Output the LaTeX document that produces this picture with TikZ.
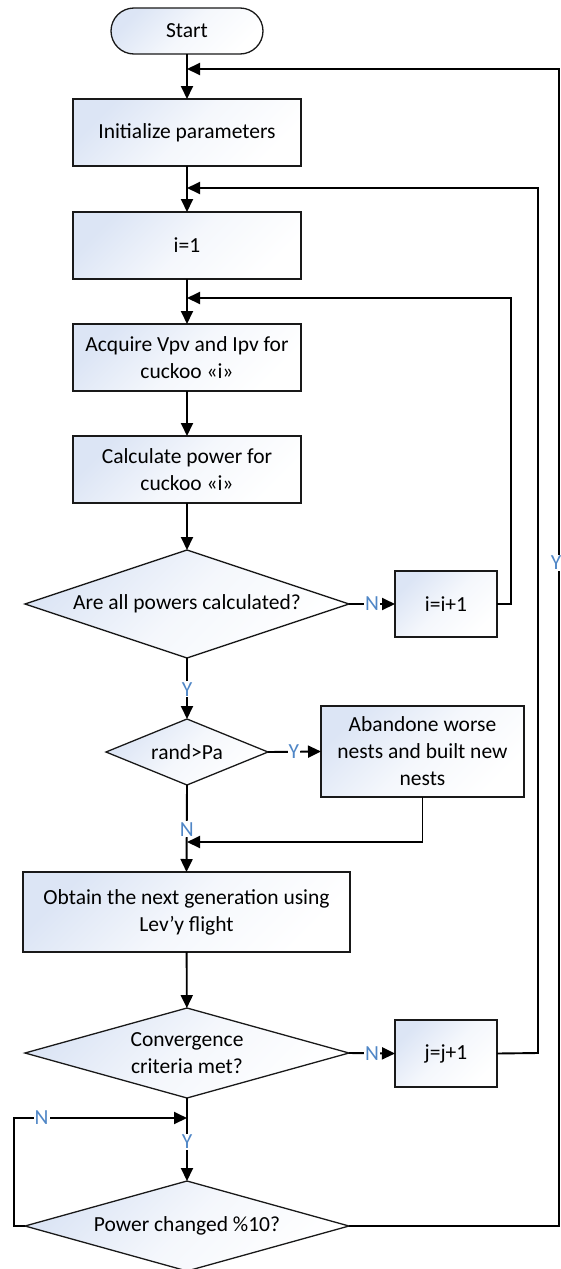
\documentclass[tikz,border=0pt]{standalone}
\usepackage{fontspec}
\setmainfont{Carlito}
\usetikzlibrary{shapes.geometric,arrows.meta}
\definecolor{shadeblue}{RGB}{220,229,245}
\definecolor{labelblue}{RGB}{79,134,198}
\begin{document}
\begin{tikzpicture}[x=1pt,y=-1pt,
  every node/.style={font=\fontsize{21.5}{27}\selectfont},
  grad/.style={top color=shadeblue, bottom color=white, middle color=shadeblue!30!white, shading angle=45},
  box/.style={draw=black!90, line width=1.3pt, grad, rectangle, inner sep=0pt, align=center, outer sep=0pt},
  term/.style={box, rounded corners=23pt, minimum width=152pt, minimum height=46pt},
  proc/.style={box, minimum width=228pt, minimum height=67pt},
  small/.style={box, minimum width=102pt, minimum height=66pt},
  dec/.style={draw=black!90, line width=1.3pt, grad, diamond, shape aspect=3.6, inner sep=0pt, align=center, outer sep=0pt},
  conn/.style={line width=1.9pt, -{Triangle[length=13pt,width=12pt]}},
  lbl/.style={fill=white, text=labelblue, inner sep=1pt},
]
\useasboundingbox (0,0) rectangle (561,1269);

% main column
\node[term] (start) at (187,31) {Start};
\node[proc] (init) at (187,132.5) {Initialize parameters};
\node[proc] (ione) at (187,245.5) {i=1};
\node[proc] (acq) at (187,357.5) {Acquire Vpv and Ipv for\\cuckoo «i»};
\node[proc] (calc) at (187,469.5) {Calculate power for\\cuckoo «i»};
\node[dec, minimum width=324pt, minimum height=108pt] (allp) at (187,604) {Are all powers calculated?};
\node[small] (inci) at (446,604) {i=i+1};
\node[dec, minimum width=162pt, minimum height=66pt] (rnd) at (187,752) {rand>Pa};
\node[box, minimum width=203pt, minimum height=91pt] (aband) at (422.5,751.5) {Abandone worse\\nests and built new\\nests};
\node[box, minimum width=327pt, minimum height=80pt] (obtain) at (186.5,912) {Obtain the next generation using\\Lev’y flight};
\node[dec, minimum width=324pt, minimum height=90pt] (conv) at (187,1053) {Convergence\\criteria met?};
\node[small, minimum height=67pt] (incj) at (446,1053.5) {j=j+1};
\node[dec, minimum width=324pt, minimum height=90pt] (pchg) at (187,1226) {Power changed \%10?};

% merge points on the main column
\coordinate (m0) at (187,69);
\coordinate (m1) at (187,188);
\coordinate (m2) at (187,298);
\coordinate (m3) at (187,842);
\coordinate (m4) at (187,1118);

% forward flow
\draw[conn] (start) -- (init);
\draw[conn] (init) -- (ione);
\draw[conn] (ione) -- (acq);
\draw[conn] (acq) -- (calc);
\draw[conn] (calc) -- (allp);
\draw[conn] (allp.east) -- node[lbl]{N} (inci.west);
\draw[conn] (allp.south) -- node[lbl,pos=0.51]{Y} (rnd.north);
\draw[conn] (rnd.east) -- node[lbl,pos=0.49]{Y} (aband.west);
\draw[conn] (rnd.south) -- node[lbl,pos=0.51]{N} (obtain.north);
\draw[conn] (obtain) -- (conv);
\draw[conn] (conv.east) -- node[lbl]{N} (incj.west);
\draw[conn] (conv.south) -- node[lbl,pos=0.53]{Y} (pchg.north);

% loops back
\draw[conn] (inci.east) -- (511,604) -- (511,298) -- (m2);
\draw[conn] (aband.south) -- (422.5,842) -- (m3);
\draw[conn] (incj.east) -- (538,1053) -- (538,188) -- (m1);
\draw[conn] (pchg.west) -- (14,1226) -- (14,1118) -- node[lbl,pos=0.16]{N} (m4);
\draw[conn] (pchg.east) -- (559,1226) -- node[lbl,pos=0.573,xshift=-3pt]{Y} (559,69) -- (m0);
\end{tikzpicture}
\end{document}
